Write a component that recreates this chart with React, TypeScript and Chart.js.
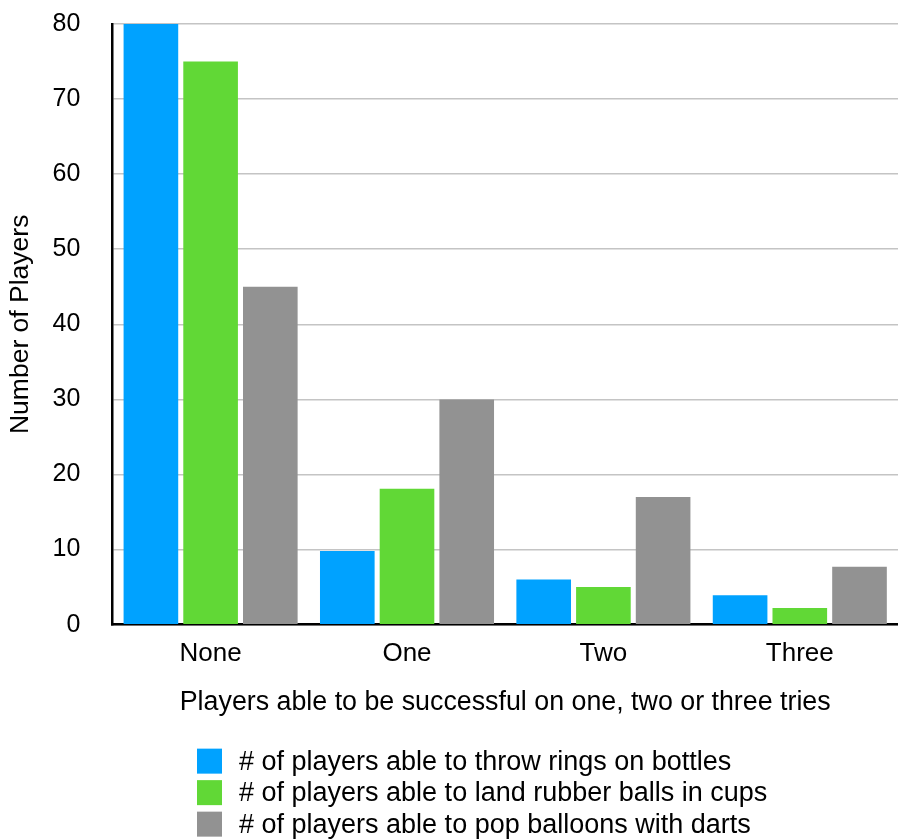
import React, { useEffect, useRef } from 'react';
import { Chart, registerables } from 'chart.js';

Chart.register(...registerables);

const categories = ['None', 'One', 'Two', 'Three'];
const seriesNames = [
  '# of players able to throw rings on bottles',
  '# of players able to land rubber balls in cups',
  '# of players able to pop balloons with darts',
];
const ringsOnBottles = [80, 9.8, 6, 3.9];
const ballsInCups = [75, 18.1, 5, 2.2];
const balloonsWithDarts = [45, 30, 17, 7.7];
const seriesColors = ['#00A2FF', '#61D836', '#929292'];
const yMin = 0;
const yMax = 80;
const yStep = 10;
const xTitle = 'Players able to be successful on one, two or three tries';
const yTitle = 'Number of Players';

const FONT_FAMILY = '"Liberation Sans", Arial, Helvetica, sans-serif';

const legendPlugin = {
  id: 'stackedLegend',
  afterDraw(chart: any) {
    const ctx = chart.ctx;
    const area = chart.chartArea;
    ctx.save();
    ctx.font = `27px ${FONT_FAMILY}`;
    ctx.textBaseline = 'middle';
    ctx.textAlign = 'left';
    chart.data.datasets.forEach((ds: any, i: number) => {
      const y = area.bottom + 136.5 + i * 31.5;
      ctx.fillStyle = ds.backgroundColor;
      ctx.fillRect(197, y - 12.5, 25, 25);
      ctx.fillStyle = '#000';
      ctx.fillText(ds.label, 239, y + 1);
    });
    ctx.restore();
  },
};

export default function App() {
  const canvasRef = useRef<HTMLCanvasElement | null>(null);

  useEffect(() => {
    if (!canvasRef.current) return;
    const chart = new Chart(canvasRef.current, {
      type: 'bar',
      data: {
        labels: categories,
        datasets: [
          { label: seriesNames[0], data: ringsOnBottles, backgroundColor: seriesColors[0] },
          { label: seriesNames[1], data: ballsInCups, backgroundColor: seriesColors[1] },
          { label: seriesNames[2], data: balloonsWithDarts, backgroundColor: seriesColors[2] },
        ],
      },
      options: {
        animation: false,
        responsive: true,
        maintainAspectRatio: false,
        datasets: {
          bar: { categoryPercentage: 0.912, barPercentage: 0.915 },
        },
        layout: { padding: { top: 24, right: 0, left: 5, bottom: 120 } },
        plugins: {
          legend: { display: false },
          tooltip: { enabled: false },
        },
        scales: {
          x: {
            grid: { display: false, drawTicks: false },
            border: { color: '#000', width: 2.5 },
            ticks: { color: '#000', font: { family: FONT_FAMILY, size: 26 }, padding: 14 },
            title: {
              display: true,
              text: xTitle,
              color: '#000',
              font: { family: FONT_FAMILY, size: 26.8 },
              padding: { top: 3, bottom: 0 },
            },
          },
          y: {
            min: yMin,
            max: yMax,
            grid: {
              color: '#c4c4c4',
              lineWidth: 1.5,
              drawTicks: true,
              tickLength: 24,
              tickColor: 'rgba(0,0,0,0)',
            },
            border: { color: '#000', width: 2.5 },
            ticks: { stepSize: yStep, color: '#000', font: { family: FONT_FAMILY, size: 25 }, padding: 8 },
            title: {
              display: true,
              text: yTitle,
              color: '#000',
              font: { family: FONT_FAMILY, size: 26.5 },
              padding: { top: 0, bottom: 7.8 },
            },
          },
        },
      },
      plugins: [legendPlugin],
    });
    return () => chart.destroy();
  }, []);

  return (
    <div style={{ position: 'absolute', left: 0, top: 0, width: 898, height: 839 }}>
      <canvas ref={canvasRef} />
    </div>
  );
}
